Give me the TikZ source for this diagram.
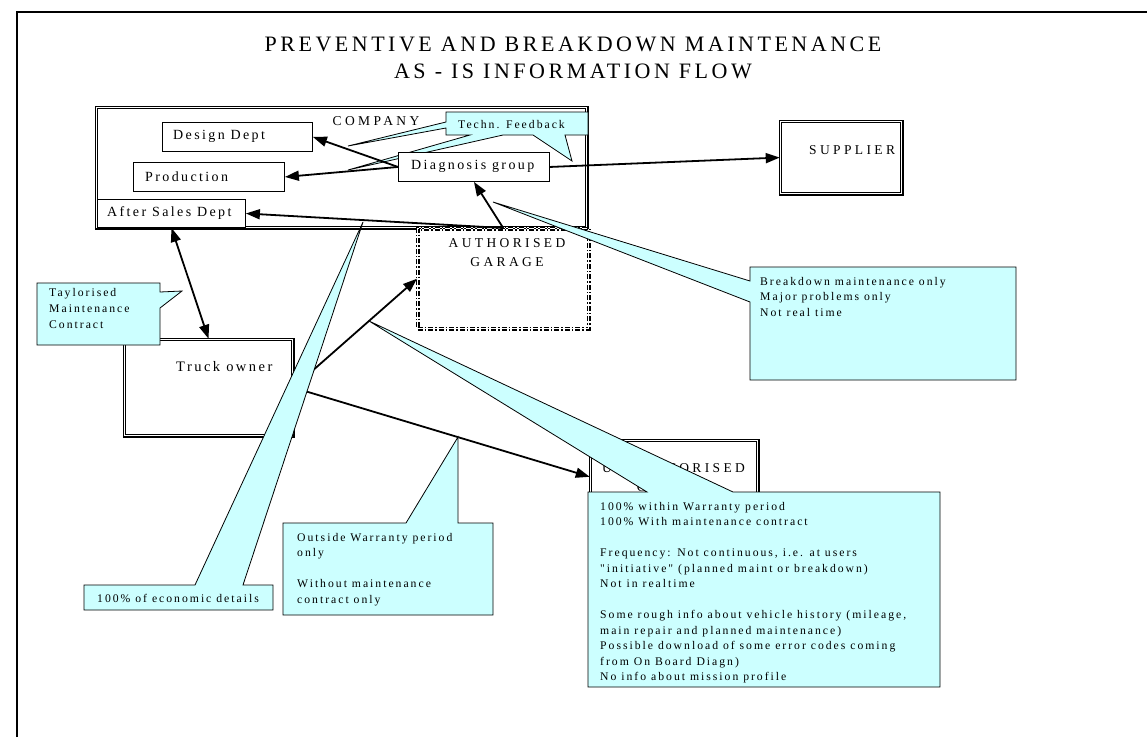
\documentclass[tikz,border=0pt]{standalone}
\usepackage{fontspec}
\setmainfont{Liberation Serif}
\newfontfamily\spacedserif[LetterSpace=17]{Liberation Serif}
\newfontfamily\capserif[LetterSpace=25]{Liberation Serif}
\newfontfamily\titleserif[LetterSpace=16]{Liberation Serif}
\usetikzlibrary{arrows.meta}
\definecolor{calloutcyan}{RGB}{204,255,255}
\tikzset{
  frameline/.style={line width=2pt},
  titletext/.style={align=center, inner sep=0pt, font=\titleserif\fontsize{22}{27}\selectfont},
  dbox/.style={draw, double, double distance=1.3pt, line width=1.1pt, fill=white, inner sep=0pt, anchor=north west},
  deptbox/.style={draw, fill=white, line width=0.9pt, inner sep=0pt, anchor=north west},
  garagebox/.style={draw, fill=white, line width=1.4pt, double, double distance=0.9pt,
    dash pattern=on 5pt off 2pt on 1.5pt off 2pt, inner sep=0pt, anchor=north west},
  caplabel/.style={inner sep=0pt, align=center, font=\capserif\fontsize{13.5}{19}\selectfont},
  boxlabel/.style={inner sep=0pt, anchor=west, font=\spacedserif\fontsize{14}{16}\selectfont},
  flow/.style={line width=1.8pt, -{Triangle[length=14pt,width=10pt]}},
  flowboth/.style={line width=1.8pt, {Triangle[length=14pt,width=10pt]}-{Triangle[length=14pt,width=10pt]}},
  callout/.style={draw, fill=calloutcyan, line width=0.8pt, line join=miter},
  notetext/.style={inner sep=0pt, align=left, anchor=north west, font=\spacedserif\fontsize{11.7}{15.5}\selectfont},
}
\begin{document}
\begin{tikzpicture}[x=1pt,y=-1pt]
\useasboundingbox (0,0) rectangle (1147,737);

% page frame
\draw[frameline] (17,737) -- (17,12) -- (1147,12);

% heading
\node[titletext] (title) at (573,58) {PREVENTIVE AND BREAKDOWN MAINTENANCE\\AS - IS INFORMATION FLOW};

% company and its departments
\node[dbox, minimum width=490.5pt, minimum height=120.5pt] (company) at (95.75,106.75) {};
\node[caplabel] (companylbl) at (376,121) {COMPANY};
\node[deptbox, minimum width=150pt, minimum height=29pt] (design) at (162,122) {};
\node[boxlabel] (designlbl) at (173,136.5) {Design Dept};
\node[deptbox, minimum width=151pt, minimum height=29pt] (production) at (133,162) {};
\node[boxlabel] (productionlbl) at (145,176.5) {Production};
\node[deptbox, minimum width=148pt, minimum height=28pt] (aftersales) at (97,199) {};
\node[boxlabel] (aftersaleslbl) at (107,213) {After Sales Dept};

% technical feedback note
\draw[callout] (446,112) -- (588,112) -- (588,135) -- (565,135) -- (572,161) -- (533,135)
  -- (503,135) -- (348,170) -- (470,135) -- (446,135) -- (446,128) -- (348,146) -- (446,122) -- cycle;
\node[notetext, anchor=west] (feedbacklbl) at (458,124.5) {Techn. Feedback};

\node[deptbox, minimum width=151pt, minimum height=29pt] (diag) at (398,152) {};
\node[boxlabel] (diaglbl) at (411,166.5) {Diagnosis group};

% outside parties
\node[garagebox, minimum width=171pt, minimum height=100pt] (garage) at (417,228) {};
\node[caplabel] (garagelbl) at (507,252.5) {AUTHORISED\\GARAGE};
\node[dbox, minimum width=121.5pt, minimum height=72.5pt] (supplier) at (779.75,120.75) {};
\node[caplabel, anchor=west] (supplierlbl) at (809,150) {SUPPLIER};
\node[dbox, minimum width=168.5pt, minimum height=96.5pt] (truck) at (123.75,338.75) {};
\node[boxlabel, font=\spacedserif\fontsize{14.5}{16}\selectfont] (trucklbl) at (176,367) {Truck owner};
\node[dbox, minimum width=167.5pt, minimum height=73pt] (unauth) at (589.75,439.75) {};
\node[caplabel] (unauthlbl) at (673.5,477.5) {UNAUTHORISED\\GARAGE};

% information flows
\draw[flow] (diag.west) -- (design.east);
\draw[flow] (diag.west) -- (production.east);
\draw[flow] (diag.east) -- (supplier.west);
\draw[flow] (garage.north) -- (diag.south);
\draw[flow] (garage.north) -- (aftersales.east);
\draw[flowboth] (aftersales.south) -- (truck.north);
\draw[flow] (truck.east) -- (garage.west);
\draw[flow] (truck.east) -- (unauth.west);

% notes
\draw[callout] (37,283) -- (160,283) -- (160,292) -- (182,291) -- (160,308) -- (160,345) -- (37,345) -- cycle;
\node[notetext, font=\spacedserif\fontsize{11.7}{16}\selectfont] (contractlbl) at (49,288) {Taylorised\\Maintenance\\Contract};

\draw[callout] (750,267) -- (1016,267) -- (1016,380) -- (750,380) -- (750,302) -- (493,202) -- (750,281) -- cycle;
\node[notetext] (breakdownlbl) at (760,277) {Breakdown maintenance only\\Major problems only\\Not real time};

\draw[callout] (84,585) -- (195,585) -- (363,222) -- (243,585) -- (273,585) -- (273,610) -- (84,610) -- cycle;
\node[notetext, anchor=west] (economiclbl) at (97,598) {100\% of economic details};

\draw[callout] (283,523) -- (406,523) -- (458,437) -- (458,523) -- (493,523) -- (493,615) -- (283,615) -- cycle;
\node[notetext] (outsidelbl) at (297,533) {Outside Warranty period\\only\\[15.5pt]Without maintenance\\contract only};

\draw[callout] (588,492) -- (647,492) -- (369,321) -- (733,492) -- (940,492) -- (940,687) -- (588,687) -- cycle;
\node[notetext] (warrantylbl) at (600,502) {100\% within Warranty period\\100\% With maintenance contract\\[15.5pt]Frequency: Not continuous, i.e. at users\\"initiative" (planned maint or breakdown)\\Not in realtime\\[15.5pt]Some rough info about vehicle history (mileage,\\main repair and planned maintenance)\\Possible download of some error codes coming\\from On Board Diagn)\\No info about mission profile};
\end{tikzpicture}
\end{document}
